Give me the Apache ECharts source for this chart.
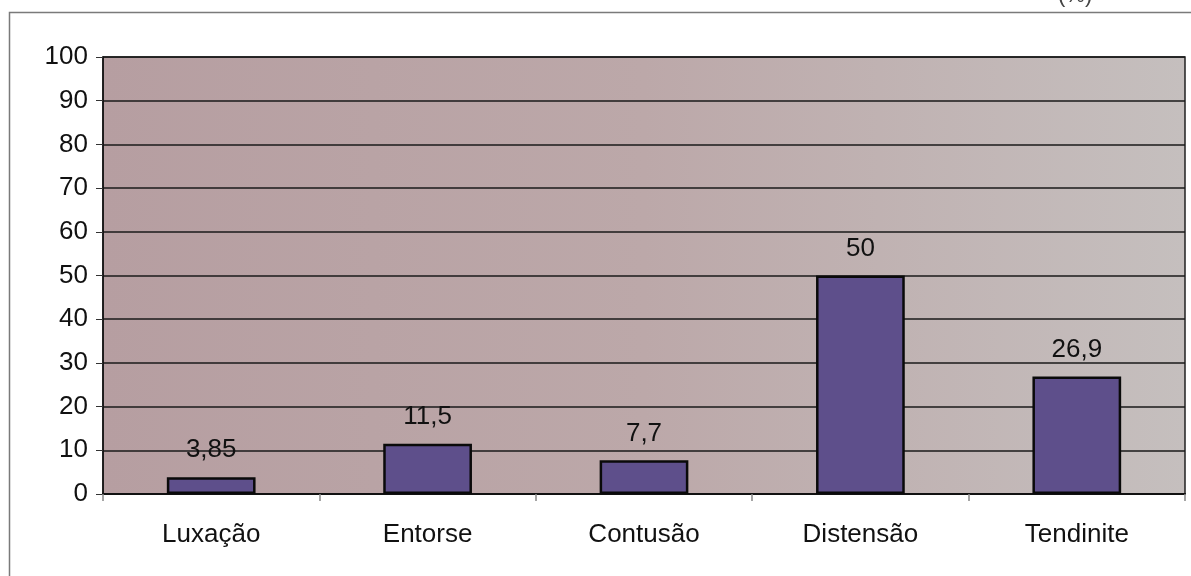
<!DOCTYPE html>
<html>
<head>
<meta charset="utf-8">
<script src="https://cdn.jsdelivr.net/npm/echarts@6/dist/echarts.min.js"></script>
<style>
  html, body { margin: 0; padding: 0; background: #ffffff; }
  #chart { width: 1191px; height: 576px; }
</style>
</head>
<body>
<div id="chart"></div>
<script>
// Tipos de lesão e respectivas percentagens
const categories = ['Luxação', 'Entorse', 'Contusão', 'Distensão', 'Tendinite'];
const values = [3.85, 11.5, 7.7, 50, 26.9];
const valueLabels = ['3,85', '11,5', '7,7', '50', '26,9'];

const chart = echarts.init(document.getElementById('chart'));

const grid = { left: 103, right: 6, top: 57, bottom: 82 };

chart.setOption({
  animation: false,
  backgroundColor: '#ffffff',
  textStyle: { fontFamily: 'Liberation Sans, Arial, sans-serif' },
  graphic: [
    {
      type: 'rect',
      shape: { x: 9.5, y: 12.5, width: 1200, height: 600 },
      style: { fill: 'none', stroke: '#7a7a7a', lineWidth: 1.5 },
      z: 0
    },
    {
      type: 'text',
      left: 1058,
      top: -15,
      style: { text: '(%)', fontSize: 22, fill: '#444', fontFamily: 'Liberation Sans, Arial, sans-serif' },
      z: 1
    }
  ],
  grid: {
    left: grid.left, right: grid.right, top: grid.top, bottom: grid.bottom,
    show: true,
    backgroundColor: {
      type: 'linear', x: 0, y: 0, x2: 1, y2: 0,
      colorStops: [
        { offset: 0, color: '#b69ea1' },
        { offset: 0.5, color: '#bca8a9' },
        { offset: 1, color: '#c5bfbe' }
      ]
    },
    borderColor: '#222',
    borderWidth: 1.5
  },
  xAxis: {
    type: 'category',
    data: categories,
    axisLine: { show: true, lineStyle: { color: '#111', width: 2 } },
    axisTick: { show: true, length: 7, lineStyle: { color: '#888', width: 1.5 } },
    axisLabel: { color: '#111', fontSize: 26, margin: 28 }
  },
  yAxis: {
    type: 'value',
    min: 0, max: 100, interval: 10,
    axisLine: { show: true, lineStyle: { color: '#111', width: 1.5 } },
    axisTick: { show: true, length: 7, lineStyle: { color: '#333', width: 1 } },
    axisLabel: { color: '#111', fontSize: 26, margin: 15 },
    splitLine: { show: true, lineStyle: { color: '#1a1a1a', width: 1.5 } }
  },
  series: [{
    type: 'bar',
    data: values,
    barWidth: '41%',
    itemStyle: { color: '#5e4f8b', borderColor: '#0a0a0a', borderWidth: 2.5 },
    label: {
      show: true,
      position: 'top',
      distance: 14,
      color: '#111',
      fontSize: 26,
      formatter: p => valueLabels[p.dataIndex]
    }
  }]
});
</script>
</body>
</html>
